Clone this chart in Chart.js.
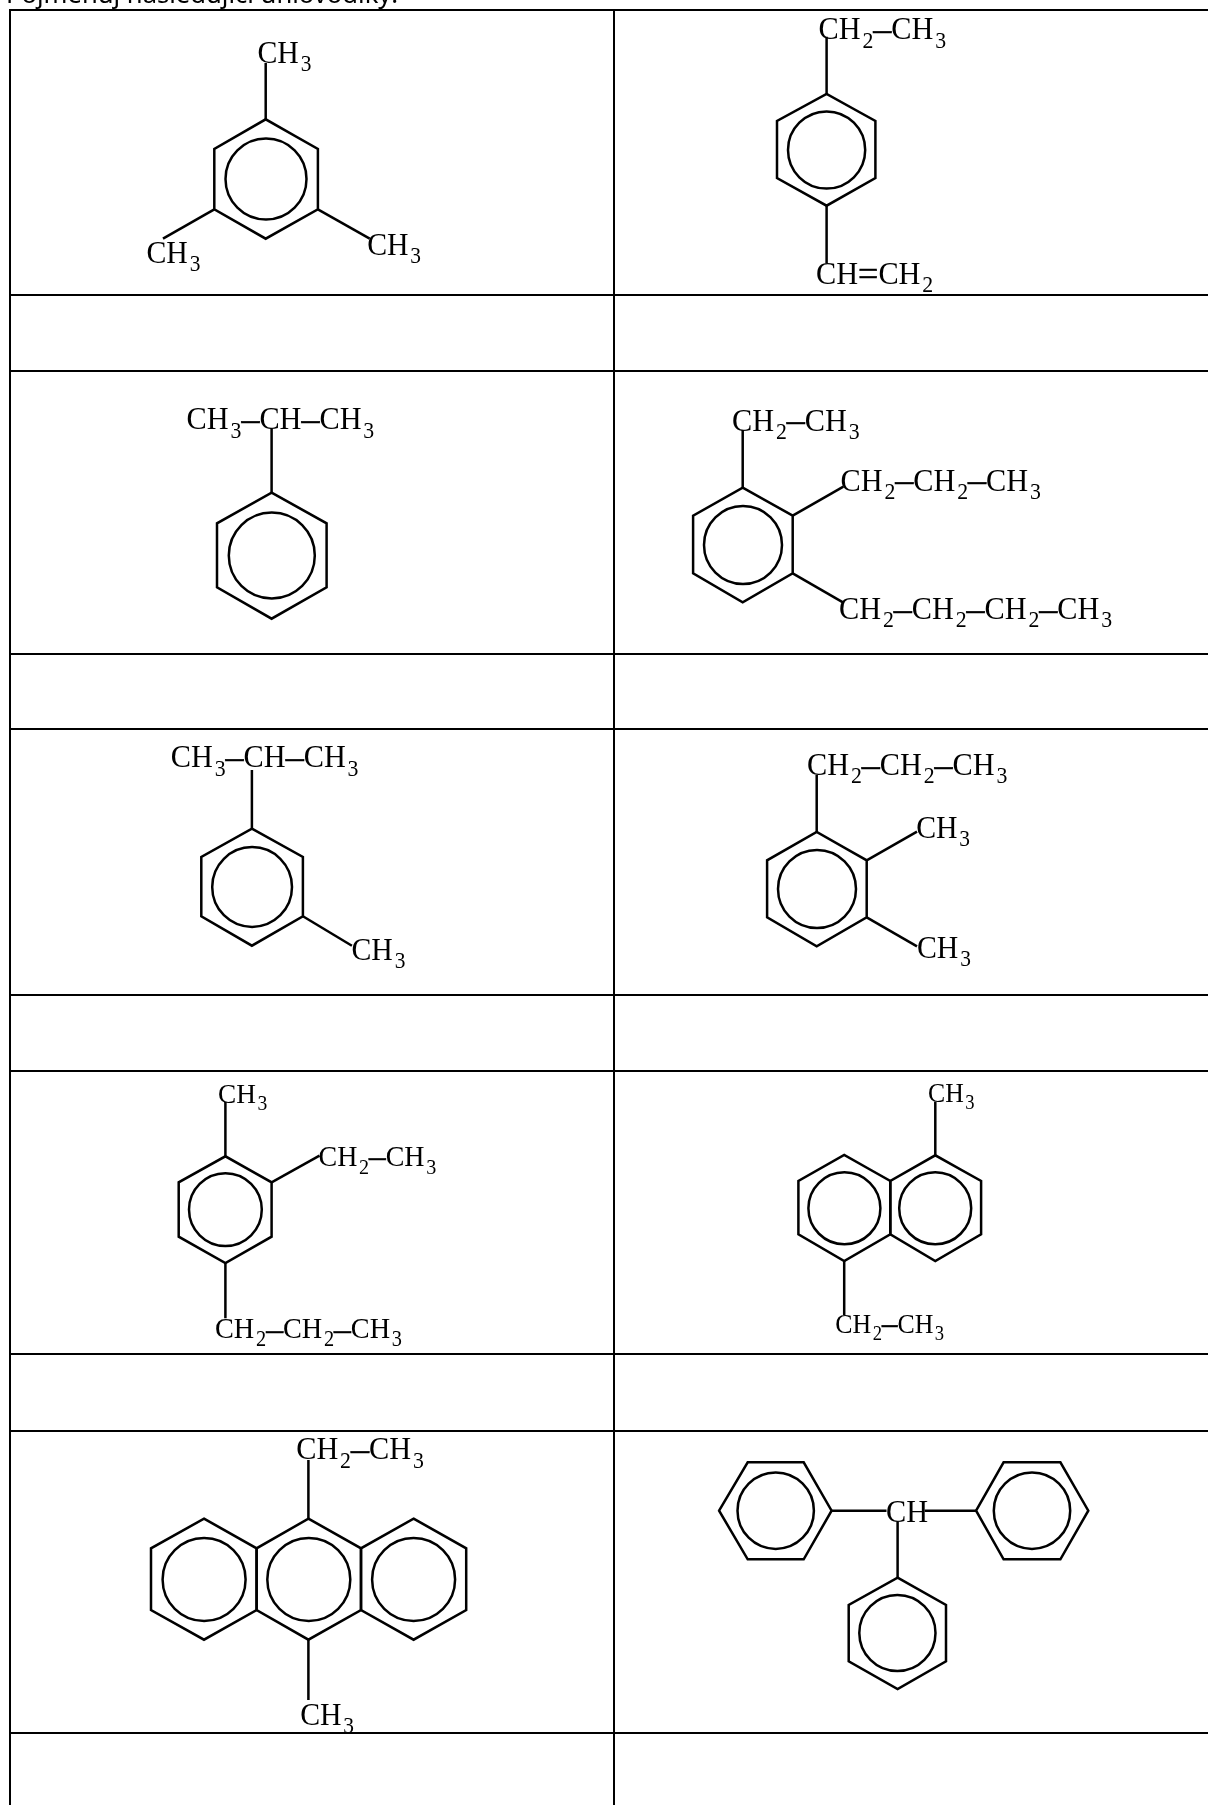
<!DOCTYPE html>
<html><head><meta charset="utf-8">
<style>html,body{margin:0;padding:0;background:#fff}#w{position:relative;width:1208px;height:1805px}canvas{display:block}</style>
<script src="https://cdn.jsdelivr.net/npm/chart.js@4"></script>
</head><body><div id="w"><canvas id="c" width="1208" height="1805"></canvas></div>
<script>
const heading = "Pojmenuj následující uhlovodíky:";
// table rules
const gridRowsY = [10, 295, 371, 654, 729, 995, 1071, 1354, 1431, 1733];
const gridColsX = [10, 614];
// ring outlines, one list per ring
const ring1 = [[265.7,119.3],[317.9,149],[317.9,209.3],[265.7,238.7],[214.3,209.3],[214.3,149]];
const ring2 = [[826.6,94],[875.4,121],[875.4,178],[826.6,205.7],[777,178],[777,121]];
const ring3 = [[271.6,492.7],[326.6,523.3],[326.6,587.3],[271.6,618.7],[217,587.3],[217,523.3]];
const ring4 = [[742.7,487.7],[792.7,515.7],[792.7,573.3],[742.7,602.3],[693.1,573.3],[693.1,515.7]];
const ring5 = [[251.9,828.7],[302.9,857],[302.9,916.3],[251.9,945.7],[201.3,916.3],[201.3,857]];
const ring6 = [[816.7,832],[866.7,860.3],[866.7,917.3],[816.7,946.3],[767.1,917.3],[767.1,860.3]];
const ring7 = [[225.4,1156.3],[271.6,1182.3],[271.6,1236.7],[225.4,1263],[178.7,1236.7],[178.7,1182.3]];
const ring8a = [[844.2,1155],[890.3,1181],[890.3,1234.3],[844.2,1261],[798.4,1234.3],[798.4,1181]];
const ring8b = [[935.3,1155.3],[981.1,1181],[981.1,1234.3],[935.3,1261],[890.3,1234.3],[890.3,1181]];
const ring9a = [[204,1518.7],[256.6,1548.3],[256.6,1610],[204,1639.7],[151,1610],[151,1548.3]];
const ring9b = [[308.4,1518.7],[361,1548.3],[361,1610],[308.4,1639.7],[256.6,1610],[256.6,1548.3]];
const ring9c = [[413.6,1518.7],[466.2,1548.3],[466.2,1610],[413.6,1639.7],[361,1610],[361,1548.3]];
const ring10a = [[719.1,1510.7],[747.7,1462.3],[803.7,1462.3],[831.6,1510.7],[803.7,1559.3],[747.7,1559.3]];
const ring10b = [[976.1,1510.7],[1003.6,1462.3],[1060.4,1462.3],[1088.3,1510.7],[1060.4,1559.3],[1003.6,1559.3]];
const ring10c = [[897.6,1577.7],[946,1605],[946,1661.3],[897.6,1689],[848.7,1661.3],[848.7,1605]];
const rings = [ring1,ring2,ring3,ring4,ring5,ring6,ring7,ring8a,ring8b,ring9a,ring9b,ring9c,ring10a,ring10b,ring10c];
// inner circles: x, y, radius
const circles = [
  [266,179,40.5],[826.6,150,38.6],[271.8,555.5,43],[743,545,39],[252.1,887,39.9],[817,889,39],
  [225.4,1209.6,36.4],[844.4,1208.3,36],[935.2,1208.3,36],[204.1,1579.5,41.5],[308.8,1579.5,41.5],[413.6,1579.5,41.5],
  [775.7,1510.7,38.2],[1032,1510.7,38.2],[897.4,1633,38.1]
];
// substituent bonds
const bonds = [
  [[265.7,63],[265.7,119.3]],[[214.3,209.3],[163,238.7]],[[317.9,209.3],[369.7,238.7]],
  [[826.6,36.7],[826.6,94]],[[826.6,205.7],[826.6,263.3]],
  [[271.6,428.3],[271.6,492.7]],
  [[742.7,430],[742.7,487.7]],[[792.7,515.7],[843.4,486.7]],[[792.7,573.3],[843.4,602.7]],
  [[251.9,770],[251.9,828.7]],[[302.9,916.3],[351.9,945.7]],
  [[816.7,775],[816.7,832]],[[866.7,860.3],[917,831.7]],[[866.7,917.3],[917,946.3]],
  [[225.4,1101.7],[225.4,1156.3]],[[271.6,1182.3],[319.5,1155.7]],[[225.4,1263],[225.4,1318.3]],
  [[935.3,1101.7],[935.3,1155.3]],[[844.2,1261],[844.2,1315]],
  [[308.4,1460],[308.4,1518.7]],[[308.4,1639.7],[308.4,1700]],
  [[831.6,1510.7],[886.5,1510.7]],[[924.6,1510.7],[976.1,1510.7]],[[897.6,1521.7],[897.6,1577.7]]
];
// formula labels: text (_n = subscript), left x, baseline y, font size
const labels = [
  ["CH_3",257.5,62.7,29.5],["CH_3",146.5,263.3,29.5],["CH_3",367.2,255,29.5],
  ["CH_2–CH_3",818.5,39.3,30],["CH=CH_2",816,284,30],
  ["CH_3–CH–CH_3",186.6,429.3,30],
  ["CH_2–CH_3",732,430.7,30],["CH_2–CH_2–CH_3",840.5,490.7,30],["CH_2–CH_2–CH_2–CH_3",839,619,30],
  ["CH_3–CH–CH_3",170.8,767.3,30],["CH_3",351.5,960,29.5],
  ["CH_2–CH_2–CH_3",807,775,30],["CH_3",916.2,838.3,29.5],["CH_3",917,958,29.5],
  ["CH_3",218,1102.7,27],["CH_2–CH_3",318.5,1166,27.7],["CH_2–CH_2–CH_3",215,1338.3,28],
  ["CH_3",928,1101.7,25.5],["CH_2–CH_3",835.3,1332.7,25.6],
  ["CH_2–CH_3",296.2,1459.3,30],["CH_3",300.2,1725,29.5],
  ["CH",886,1522.3,30]
];
const LABEL_CLIP_Y = 1732;

const asPts = a => a.map(p => ({x:p[0], y:p[1]}));
const lineDs = (pts, w) => ({data:pts, showLine:true, pointRadius:0, borderColor:'#000', borderWidth:w,
  borderJoinStyle:'miter', borderCapStyle:'butt', tension:0, fill:false});
const datasets = [];
gridRowsY.forEach(y => datasets.push(lineDs([{x:gridColsX[0]-1,y},{x:1208,y}],2)));
gridColsX.forEach(x => datasets.push(lineDs([{x,y:gridRowsY[0]-1},{x,y:1805}],2)));
rings.forEach(r => datasets.push(lineDs(asPts(r.concat([r[0],r[1]])),2.5)));
bonds.forEach(b => datasets.push(lineDs(asPts(b),2.5)));
datasets.push({data:circles.map(c=>({x:c[0],y:c[1]})), showLine:false,
  pointRadius:circles.map(c=>c[2]), pointBorderWidth:2.5, pointBorderColor:'#000', pointBackgroundColor:'rgba(0,0,0,0)', pointStyle:'circle'});

const textPlugin = {
  id:'formulas',
  afterDatasetsDraw(chart){
    const ctx = chart.ctx, sx = chart.scales.x, sy = chart.scales.y;
    ctx.save();
    ctx.fillStyle = '#000'; ctx.strokeStyle = '#000'; ctx.textBaseline = 'alphabetic'; ctx.textAlign = 'left';
    ctx.font = '25.6px "Noto Sans"';
    ctx.fillText(heading, 6, 3);
    labels.forEach(([txt,x0,y0,s])=>{
      let x = sx.getPixelForValue(x0); const y = sy.getPixelForValue(y0);
      ctx.save();
      ctx.beginPath(); ctx.rect(0,0,1208,LABEL_CLIP_Y); ctx.clip();
      for (let i=0;i<txt.length;i++){
        const ch = txt[i];
        if (ch === '_') {
          const d = txt[++i]; const fs = s*0.79, xs = 0.92;
          x += s*0.06;
          ctx.font = fs+'px "Liberation Serif"';
          ctx.save();
          ctx.translate(x, y + s*0.275);
          ctx.scale(xs, 1);
          ctx.fillText(d, 0, 0);
          ctx.restore();
          x += ctx.measureText(d).width * xs;
        } else if (ch === '–' || ch === '=') {
          const fs = s*1.2;
          ctx.font = fs+'px "Liberation Serif"';
          ctx.lineWidth = 0.6;
          ctx.fillText(ch, x, y + (fs-s)*0.25);
          ctx.strokeText(ch, x, y + (fs-s)*0.25);
          x += ctx.measureText(ch).width;
        } else {
          ctx.font = s+'px "Liberation Serif"';
          ctx.save();
          ctx.translate(x, y);
          ctx.scale(1.01, 1.05);
          ctx.fillText(ch, 0, 0);
          ctx.restore();
          x += ctx.measureText(ch).width * 1.01;
        }
      }
      ctx.restore();
    });
    ctx.restore();
  }
};

new Chart(document.getElementById('c'), {
  type:'scatter',
  data:{datasets},
  plugins:[textPlugin],
  options:{
    responsive:false, animation:false, events:[],
    layout:{padding:0, autoPadding:false},
    plugins:{legend:{display:false},tooltip:{enabled:false},title:{display:false}},
    scales:{
      x:{type:'linear',min:0,max:1208,display:false},
      y:{type:'linear',min:0,max:1805,reverse:true,display:false}
    }
  }
});
</script></body></html>
